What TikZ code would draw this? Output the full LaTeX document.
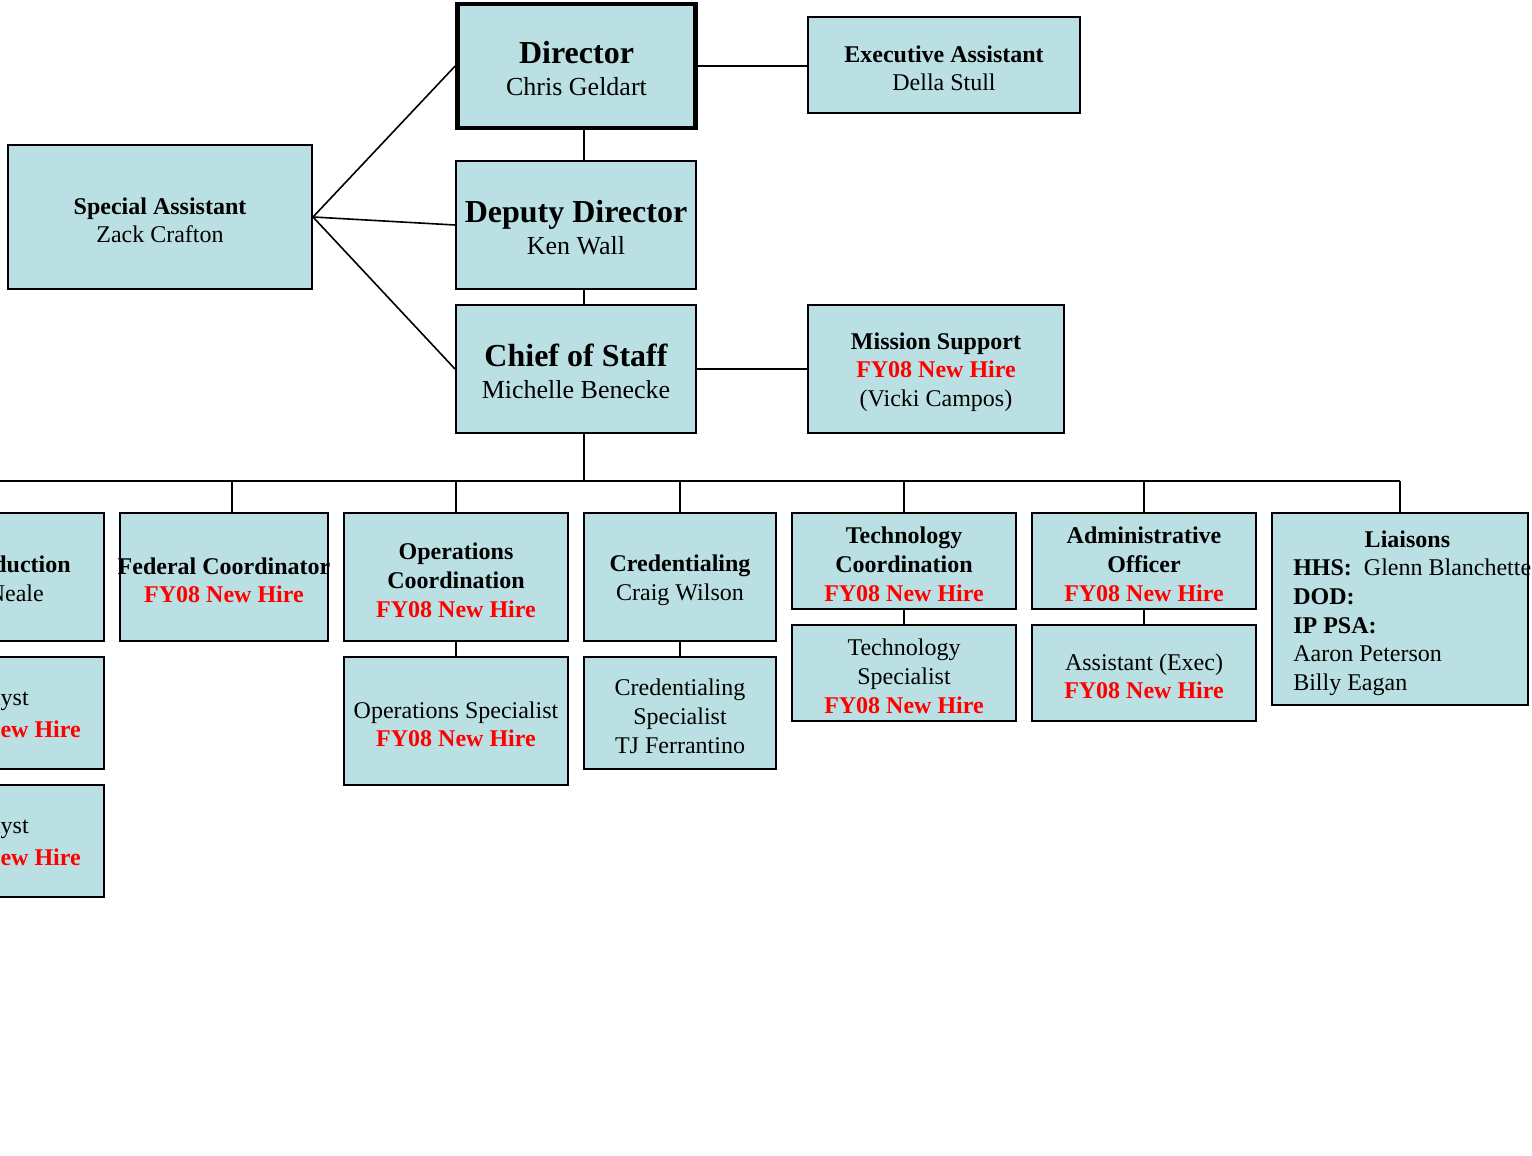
\documentclass[tikz,border=0pt]{standalone}
\usepackage{fontspec}
\setmainfont{Liberation Serif}
\definecolor{boxblue}{RGB}{187,224,227}
\definecolor{hire}{RGB}{255,0,0}
\newcommand\nh{\textcolor{hire}{\textbf{FY08 New Hire}}}
\begin{document}
\begin{tikzpicture}[x=0.75pt,y=-0.75pt,
  box/.style={draw, fill=boxblue, line width=1.5pt, inner sep=0pt, rectangle},
  ptxt/.style={align=center, inner sep=0pt, font=\fontsize{18}{21.5}\selectfont},
  txt/.style={ptxt, yshift=-2.4pt},
  bigtxt/.style={align=center, inner sep=0pt, yshift=-1.9pt, font=\fontsize{19.5}{23.6}\selectfont},
  conn/.style={line width=1.2pt}]
\useasboundingbox (0,0) rectangle (1532,1156);
\clip (0,0) rectangle (1532,1156);

% top boxes
\node[box, line width=3.5pt, minimum width=178.5pt, minimum height=93pt] (dir) at (576.5,66) {};
\node[bigtxt] (dirt) at (dir.center) {{\fontsize{24}{23.6}\selectfont\bfseries Director}\\Chris Geldart};
\node[box, minimum width=204pt, minimum height=72pt] (exec) at (944,65) {};
\node[txt] (exect) at (exec.center) {\textbf{Executive Assistant}\\Della Stull};
\node[box, minimum width=228pt, minimum height=108pt] (spec) at (160,217) {};
\node[txt] (spect) at (spec.center) {\textbf{Special Assistant}\\Zack Crafton};
\node[box, minimum width=180pt, minimum height=96pt] (dep) at (576,225) {};
\node[bigtxt] (dept) at (dep.center) {{\fontsize{24}{23.6}\selectfont\bfseries Deputy Director}\\Ken Wall};
\node[box, minimum width=180pt, minimum height=96pt] (chief) at (576,369) {};
\node[bigtxt] (chieft) at (chief.center) {{\fontsize{24}{23.6}\selectfont\bfseries Chief of Staff}\\Michelle Benecke};
\node[box, minimum width=192pt, minimum height=96pt] (mis) at (936,369) {};
\node[txt] (mist) at (mis.center) {\textbf{Mission Support}\\\nh\\(Vicki Campos)};

% left column, cut off by the picture's left edge
\node[box, minimum width=168pt, minimum height=96pt] (l0) at (-8,577) {};
\node[ptxt, anchor=east, font=\fontsize{18}{21.5}\selectfont\bfseries] (l0a) at (71,564) {Production};
\node[ptxt, anchor=east] (l0b) at (44,593) {Neale};
\node[box, minimum width=168pt, minimum height=84pt] (l1) at (-8,713) {};
\node[ptxt, anchor=east] (l1a) at (29,700) {Analyst};
\node[ptxt, anchor=east] (l1b) at (81,729) {\nh};
\node[box, minimum width=168pt, minimum height=84pt] (l2) at (-8,841) {};
\node[ptxt, anchor=east] (l2a) at (29,828) {Analyst};
\node[ptxt, anchor=east] (l2b) at (81,857) {\nh};

% bottom row
\node[box, minimum width=156pt, minimum height=96pt] (fed) at (224,577) {};
\node[txt] (fedt) at (fed.center) {\textbf{Federal Coordinator}\\\nh};
\node[box, minimum width=168pt, minimum height=96pt] (opsc) at (456,577) {};
\node[txt] (opsct) at (opsc.center) {\textbf{Operations}\\\textbf{Coordination}\\\nh};
\node[box, minimum width=168pt, minimum height=96pt] (opss) at (456,721) {};
\node[txt] (opsst) at (opss.center) {Operations Specialist\\\nh};
\node[box, minimum width=144pt, minimum height=96pt] (cred) at (680,577) {};
\node[txt] (credt) at (cred.center) {\textbf{Credentialing}\\Craig Wilson};
\node[box, minimum width=144pt, minimum height=84pt] (creds) at (680,713) {};
\node[txt] (credst) at (creds.center) {Credentialing\\Specialist\\TJ Ferrantino};
\node[box, minimum width=168pt, minimum height=72pt] (techc) at (904,561) {};
\node[txt] (techct) at (techc.center) {\textbf{Technology}\\\textbf{Coordination}\\\nh};
\node[box, minimum width=168pt, minimum height=72pt] (techs) at (904,673) {};
\node[txt] (techst) at (techs.center) {Technology\\Specialist\\\nh};
\node[box, minimum width=168pt, minimum height=72pt] (adm) at (1144,561) {};
\node[txt] (admt) at (adm.center) {\textbf{Administrative}\\\textbf{Officer}\\\nh};
\node[box, minimum width=168pt, minimum height=72pt] (adma) at (1144,673) {};
\node[txt] (admat) at (adma.center) {Assistant (Exec)\\\nh};
\node[box, minimum width=192pt, minimum height=144pt] (lia) at (1400,609) {};
\node[txt, align=left, anchor=west] (liat) at (1293,610) {\hspace*{53.6pt}\textbf{Liaisons}\\\textbf{HHS:}\enspace Glenn Blanchette\\\textbf{DOD:}\\\textbf{IP PSA:}\\Aaron Peterson\\Billy Eagan};

% connectors
\coordinate (vx) at (584,0);
\coordinate (bus) at (584,481);
\coordinate (fedtop) at (232,513);
\draw[conn] (vx |- dir.south) -- (vx |- dep.north);
\draw[conn] (vx |- dep.south) -- (vx |- chief.north);
\draw[conn] (vx |- chief.south) -- (bus);
\draw[conn] (dir.east) -- (dir.east -| exec.west);
\draw[conn] (chief.east) -- (mis.west);
\draw[conn] (spec.east) -- (dir.west);
\draw[conn] (spec.east) -- (dep.west);
\draw[conn] (spec.east) -- (chief.west);
\draw[conn] (bus -| l0.north) -- (bus -| lia.north);
\foreach \n in {l0,opsc,cred,techc,adm,lia} \draw[conn] (bus -| \n.north) -- (\n.north);
\draw[conn] (bus -| fedtop) -- (fedtop);
\draw[conn] (l0.south) -- (l1.north);
\draw[conn] (l1.south) -- (l2.north);
\draw[conn] (opsc.south) -- (opss.north);
\draw[conn] (cred.south) -- (creds.north);
\draw[conn] (techc.south) -- (techs.north);
\draw[conn] (adm.south) -- (adma.north);
\end{tikzpicture}
\end{document}
